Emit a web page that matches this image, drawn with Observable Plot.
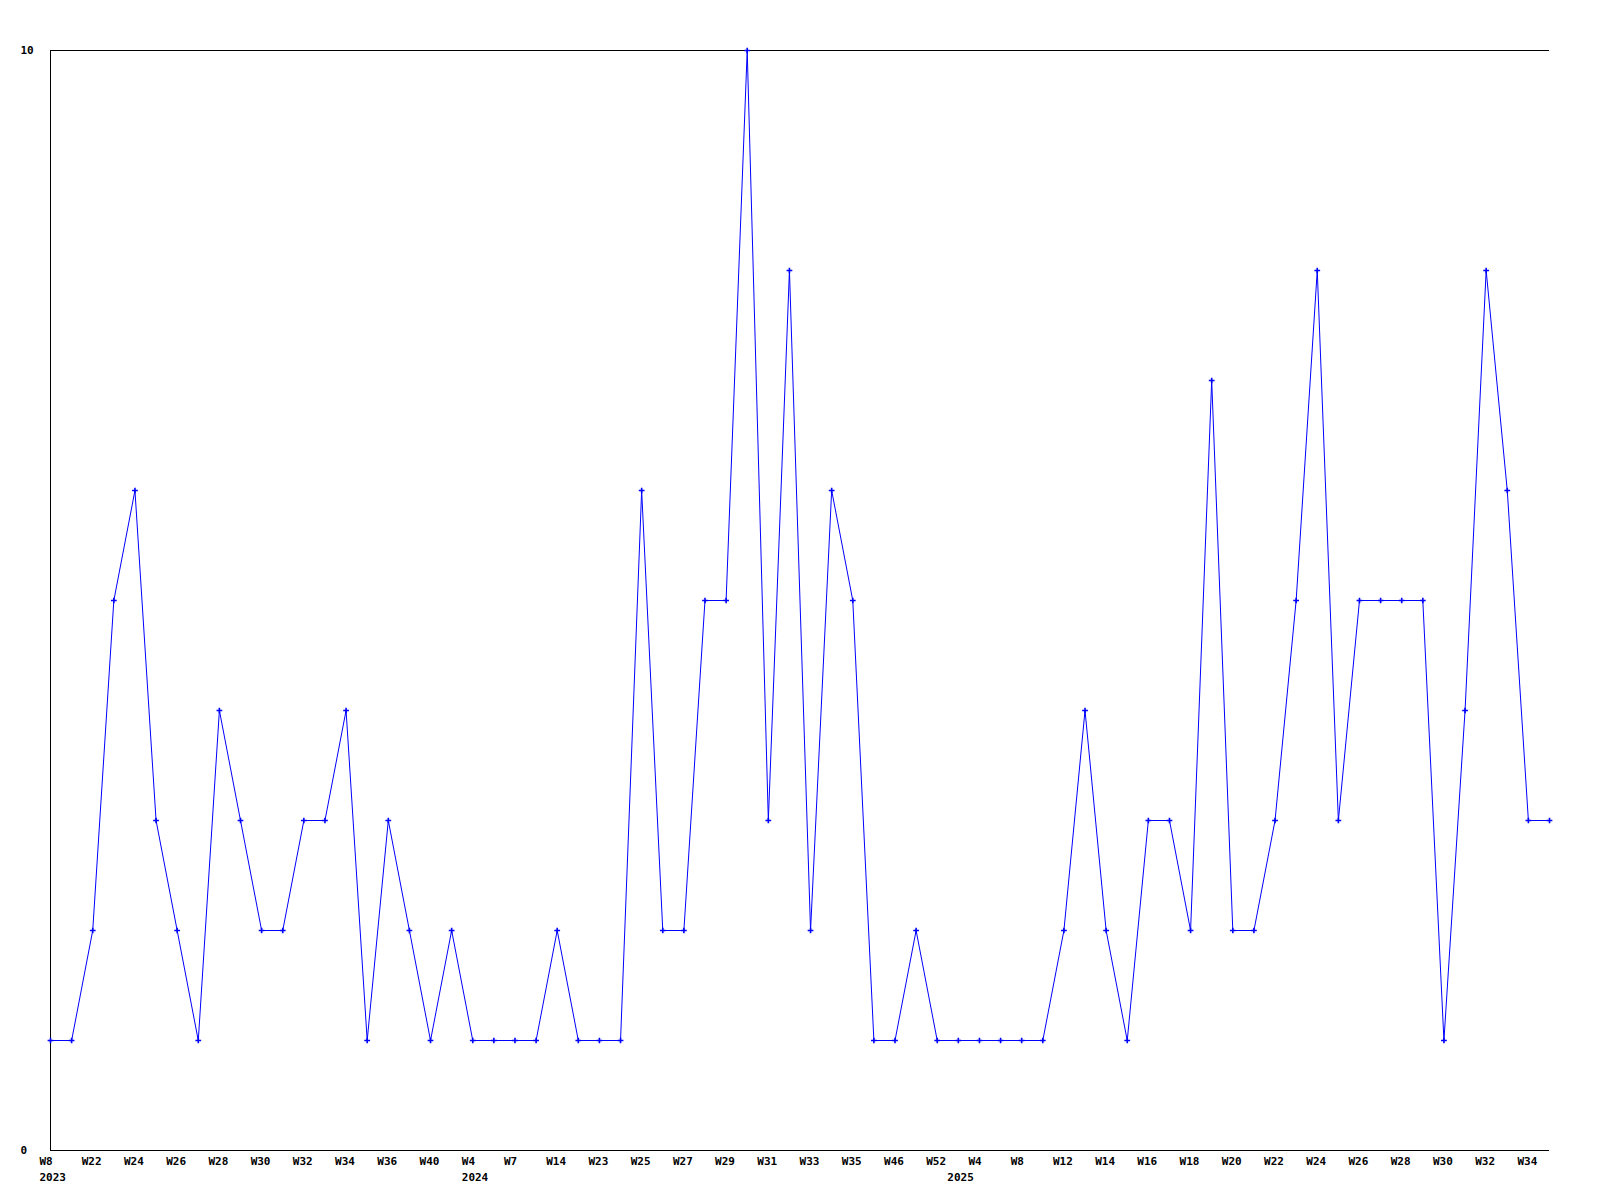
<!DOCTYPE html>
<html>
<head>
<meta charset="utf-8">
<script src="https://cdn.jsdelivr.net/npm/d3@7"></script>
<script src="https://cdn.jsdelivr.net/npm/@observablehq/plot@0.6"></script>
<style>
  html, body { margin: 0; padding: 0; background: #fff; }
  #chart svg { display: block; }
</style>
</head>
<body>
<div id="chart"></div>
<script>
const years = [
  2023,2023,2023,2023,2023,2023,2023,2023,2023,2023,2023,2023,2023,2023,2023,2023,2023,2023,2023,2023,
  2024,2024,2024,2024,2024,2024,2024,2024,2024,2024,2024,2024,2024,2024,2024,2024,2024,2024,2024,2024,2024,2024,2024,
  2025,2025,2025,2025,2025,2025,2025,2025,2025,2025,2025,2025,2025,2025,2025,2025,2025,2025,2025,2025,2025,2025,2025,2025,2025,2025,2025,2025,2025
];
const weeks = [
  "W8","W21","W22","W23","W24","W25","W26","W27","W28","W29","W30","W31","W32","W33","W34","W35","W36","W38","W40","W45",
  "W4","W5","W7","W10","W14","W18","W23","W24","W25","W26","W27","W28","W29","W30","W31","W32","W33","W34","W35","W40","W46","W50","W52",
  "W2","W4","W6","W8","W10","W12","W13","W14","W15","W16","W17","W18","W19","W20","W21","W22","W23","W24","W25","W26","W27","W28","W29","W30","W31","W32","W33","W34","W35"
];
const counts = [
  1,1,2,5,6,3,2,1,4,3,2,2,3,3,4,1,3,2,1,2,
  1,1,1,1,2,1,1,1,6,2,2,5,5,10,3,8,2,6,5,1,1,2,1,
  1,1,1,1,1,2,4,2,1,3,3,2,7,2,2,3,5,8,3,5,5,5,5,1,4,8,6,3,3
];
const yTicks = [0, 10];

const keys = weeks.map((w, i) => `${years[i]}-${w}`);
const data = keys.map((k, i) => ({key: k, year: years[i], week: weeks[i], value: counts[i]}));
// week labels on every other point
const weekTickKeys = keys.filter((k, i) => i % 2 === 0);
const weekOf = new Map(keys.map((k, i) => [k, weeks[i]]));
// year label under the first point of each year
const yearTickKeys = keys.filter((k, i) => i === 0 || years[i] !== years[i - 1]);
const yearOf = new Map(keys.map((k, i) => [k, String(years[i])]));

const font = "bold 11px 'DejaVu Sans Mono', 'Liberation Mono', monospace";

const chart = Plot.plot({
  width: 1600,
  height: 1200,
  marginLeft: 50,
  marginRight: 51,
  marginTop: 50,
  marginBottom: 50,
  style: {font, background: "#fff", color: "#000"},
  x: {type: "point", domain: keys, padding: 0, round: false},
  y: {domain: [0, 10]},
  marks: [
    Plot.axisX({
      ticks: weekTickKeys,
      tickSize: 0,
      tickPadding: 7,
      textAnchor: "start",
      dx: -11,
      tickFormat: k => weekOf.get(k),
      label: null,
      fill: "#000"
    }),
    Plot.axisX({
      ticks: yearTickKeys,
      tickSize: 0,
      tickPadding: 23,
      textAnchor: "start",
      dx: -11,
      tickFormat: k => yearOf.get(k),
      label: null,
      fill: "#000"
    }),
    Plot.axisY({
      ticks: yTicks,
      tickSize: 0,
      tickPadding: 3,
      textAnchor: "start",
      dx: -27,
      tickFormat: d => String(d),
      label: null,
      fill: "#000"
    }),
    Plot.ruleY(yTicks, {stroke: "#000", strokeWidth: 1, shapeRendering: "crispEdges"}),
    Plot.ruleX([keys[0]], {stroke: "#000", strokeWidth: 1, shapeRendering: "crispEdges"}),
    Plot.line(data, {x: "key", y: "value", stroke: "#0000ff", strokeWidth: 1}),
    Plot.dot(data, {x: "key", y: "value", symbol: "plus", r: 2, stroke: "#0000ff", strokeWidth: 1.6})
  ]
});
document.getElementById("chart").appendChild(chart);
</script>
</body>
</html>
